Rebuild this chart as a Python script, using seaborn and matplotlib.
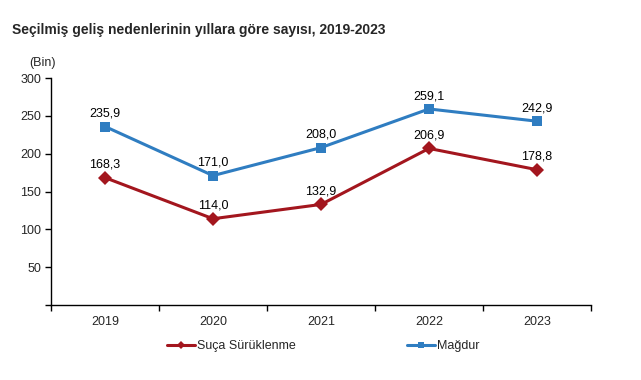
import matplotlib
matplotlib.use("Agg")
import matplotlib.pyplot as plt
import seaborn as sns
import pandas as pd
import numpy as np

sns.set_style("white")
plt.rcParams["font.family"] = ["Liberation Sans", "DejaVu Sans"]

years = ["2019", "2020", "2021", "2022", "2023"]
suca = [168.3, 114.0, 132.9, 206.9, 178.8]
magdur = [235.9, 171.0, 208.0, 259.1, 242.9]
y_ticks = [50, 100, 150, 200, 250, 300]

RED = "#A3161E"
BLUE = "#2F7DC1"

df = pd.DataFrame({
    "Yıl": years * 2,
    "Değer": suca + magdur,
    "Seri": ["Suça Sürüklenme"] * 5 + ["Mağdur"] * 5,
})

fig = plt.figure(figsize=(6.41, 3.80), dpi=100)
ax = fig.add_axes([51 / 641, 1 - 305 / 380, 540 / 641, 227 / 380])

sns.lineplot(data=df, x="Yıl", y="Değer", hue="Seri", style="Seri",
             palette={"Suça Sürüklenme": RED, "Mağdur": BLUE},
             markers={"Suça Sürüklenme": "D", "Mağdur": "s"},
             dashes=False, linewidth=2.2, markersize=7, markeredgewidth=0,
             ax=ax, legend=False)

for vals in (suca, magdur):
    for i, v in enumerate(vals):
        ax.annotate(f"{v:.1f}".replace(".", ","), (i, v), xytext=(0, 5),
                    textcoords="offset points", ha="center", va="bottom",
                    fontsize=9, color="#000000")

ax.set_xlim(-0.5, 4.5)
ax.set_ylim(0, 300)
ax.set_yticks([0] + y_ticks)
ax.set_yticklabels([""] + [str(t) for t in y_ticks], fontsize=9)
ax.set_xticks(range(len(years)))
ax.set_xticklabels(years, fontsize=9)
ax.set_xticks(np.arange(-0.5, 4.6, 1), minor=True)
ax.tick_params(axis="x", which="major", bottom=False, length=0, pad=8)
ax.tick_params(axis="x", which="minor", bottom=True, length=4, width=1,
               direction="out", color="black")
ax.tick_params(axis="y", left=True, length=4, width=1, direction="out",
               color="black", pad=3)
ax.set_xlabel("")
ax.set_ylabel("")
for s in ("top", "right"):
    ax.spines[s].set_visible(False)
for s in ("left", "bottom"):
    ax.spines[s].set_color("black")
    ax.spines[s].set_linewidth(1)

ax.text(-0.015, 1.04, "(Bin)", transform=ax.transAxes, fontsize=9, ha="center", va="bottom")

fig.text(12 / 641, 1 - 30 / 380, "Seçilmiş geliş nedenlerinin yıllara göre sayısı, 2019-2023",
         fontsize=10, fontweight="bold", ha="left", va="center")

# legend
handles = [
    plt.Line2D([], [], color=RED, marker="D", markersize=4, linewidth=2.2, markeredgewidth=0),
    plt.Line2D([], [], color=BLUE, marker="s", markersize=5, linewidth=2.2, markeredgewidth=0),
]
fig.legend(handles, ["Suça Sürüklenme", "Mağdur"], loc="center", ncol=2,
           bbox_to_anchor=(0.505, 1 - 346 / 380), frameon=False, fontsize=9,
           handlelength=2.2, handletextpad=0.2, columnspacing=8.9)

fig.savefig("out.png", dpi=100)
